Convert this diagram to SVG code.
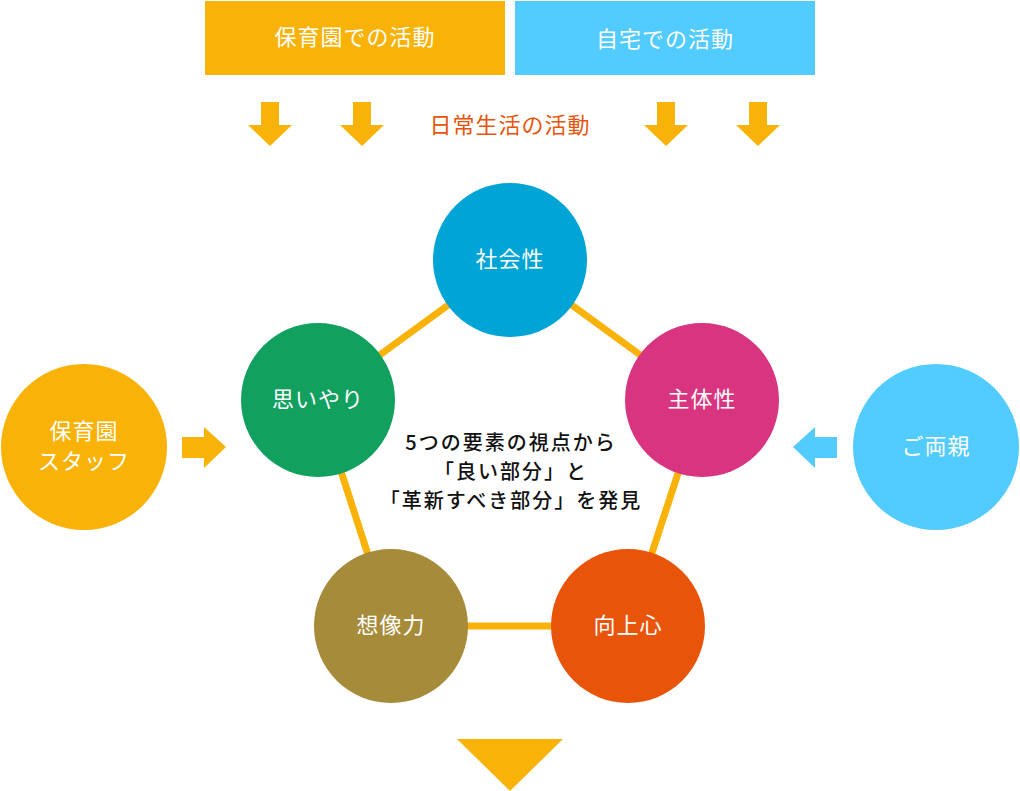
<svg xmlns="http://www.w3.org/2000/svg" width="1020" height="791" viewBox="0 0 1020 791">
<style>
text{font-family:"Noto Sans CJK JP","Noto Sans",sans-serif;text-anchor:middle;dominant-baseline:central;font-size:22px;letter-spacing:1px}
.w{fill:#fff}
.arr{fill:#F9B208}
.c{fill:#111;font-weight:500;font-size:20px;letter-spacing:2px}
</style>
<rect width="1020" height="791" fill="#fff"/>
<g id="box-hoikuen"><rect x="205" y="1" width="300" height="74" fill="#F9B208"/><text class="w" x="355" y="35">保育園での活動</text></g>
<g id="box-jitaku"><rect x="515" y="1" width="300" height="74" fill="#52CBFF"/><text class="w" x="665" y="37">自宅での活動</text></g>
<g id="down-arrows">
<path class="arr" d="M261,102h18v23h13l-22,21l-22,-21h13z"/>
<path class="arr" d="M353,102h18v23h13l-22,21l-22,-21h13z"/>
<path class="arr" d="M657,102h18v23h13l-22,21l-22,-21h13z"/>
<path class="arr" d="M749,102h18v23h13l-22,21l-22,-21h13z"/>
</g>
<text x="510" y="123" style="fill:#E8540A">日常生活の活動</text>
<g id="connectors" stroke="#F9B208" stroke-width="7">
<line x1="510" y1="260" x2="702" y2="400"/>
<line x1="702" y1="400" x2="628" y2="626"/>
<line x1="628" y1="626" x2="391" y2="626"/>
<line x1="391" y1="626" x2="318" y2="400"/>
<line x1="318" y1="400" x2="510" y2="260"/>
</g>
<g id="n-shakaisei"><circle cx="510" cy="260" r="77" fill="#00A5D6"/><text class="w" x="510" y="257">社会性</text></g>
<g id="n-shutaisei"><circle cx="702" cy="400" r="77" fill="#D8347F"/><text class="w" x="702" y="397">主体性</text></g>
<g id="n-kojoshin"><circle cx="628" cy="626" r="77" fill="#E8540A"/><text class="w" x="628" y="623">向上心</text></g>
<g id="n-sozoryoku"><circle cx="391" cy="626" r="77" fill="#A68B3A"/><text class="w" x="391" y="623">想像力</text></g>
<g id="n-omoiyari"><circle cx="318" cy="400" r="77" fill="#12A05F"/><text class="w" x="318" y="397">思いやり</text></g>
<g id="center-text">
<text class="c" x="511" y="441">5つの要素の視点から</text>
<text class="c" x="511" y="470">「良い部分」と</text>
<text class="c" x="511" y="499">「革新すべき部分」を発見</text>
</g>
<g id="n-staff"><circle cx="84" cy="447" r="83" fill="#F9B208"/><text class="w" x="84" y="429">保育園</text><text class="w" x="84" y="459">スタッフ</text></g>
<g id="n-ryoshin"><circle cx="936" cy="447" r="83" fill="#52CBFF"/><text class="w" x="936" y="444">ご両親</text></g>
<path fill="#F9B208" d="M182,437h22v-10l22,20l-22,21v-10h-22z"/>
<path fill="#52CBFF" d="M837,437h-22v-10l-22,20l22,21v-10h22z"/>
<path fill="#F9B208" d="M457,739h106l-53,52z"/>
</svg>
